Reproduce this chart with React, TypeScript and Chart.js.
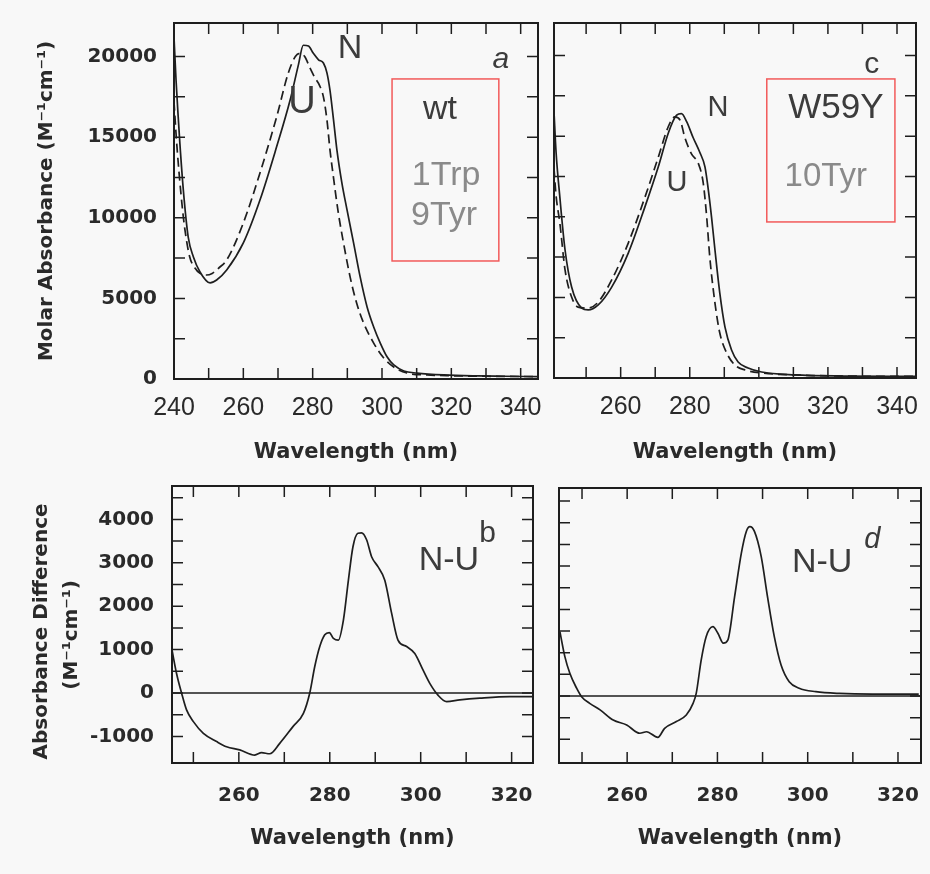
import React, { useEffect, useRef } from 'react';
import { Chart, registerables } from 'chart.js';

Chart.register(...registerables);

// ---------- Panel a: wt (1 Trp, 9 Tyr) molar absorbance ----------
const A_N_WL = [240, 240.6, 241.2, 241.7, 242.7, 244.1, 245.6, 247.5, 250.4, 252.3, 255.2, 260, 264.8, 269.6, 273.5, 275.9, 277.3, 278.8, 280.2, 281.7, 283.1, 284.1, 285, 286, 287, 288.4, 289.9, 291.8, 293.7, 295.7, 297.6, 299.5, 301.5, 303.4, 306.3, 310.1, 317.8, 327.4, 335, 345];
const A_N_ABS = [21200, 18500, 16300, 14600, 11700, 8800, 7570, 6640, 5960, 6140, 6760, 8440, 11100, 14400, 17300, 19500, 20700, 20650, 20200, 19800, 19600, 19000, 17900, 16100, 14200, 12200, 10500, 8440, 6330, 4470, 3230, 2230, 1360, 870, 500, 370, 250, 190, 170, 150];
const A_U_WL = [240, 240.5, 241, 242, 243, 244.5, 246, 247.5, 249.4, 251, 253, 255.2, 260, 264.8, 269.6, 273, 275, 276.3, 277.7, 279.2, 280.6, 282, 283.1, 284.1, 285, 286, 287.4, 288.9, 290.8, 292.7, 294.7, 297.6, 300.5, 303.4, 307.2, 313, 320, 330, 345];
const A_U_ABS = [17200, 15500, 14000, 11500, 9500, 7600, 6900, 6550, 6450, 6550, 6900, 7380, 9680, 12780, 16250, 19000, 20000, 20200, 20000, 19300, 18700, 18200, 17500, 16100, 14200, 12500, 10300, 8440, 6330, 4700, 3470, 2230, 1300, 740, 370, 250, 200, 170, 150];

// ---------- Panel c: W59Y (10 Tyr) molar absorbance ----------
const C_N_WL = [240.7, 241.3, 242.4, 243.9, 245.8, 248.7, 250.6, 253.5, 257.4, 262.2, 267.0, 270.9, 273.8, 276.2, 277.6, 279.1, 281.0, 282.9, 284.4, 285.3, 286.3, 287.3, 288.7, 290.2, 292.1, 294.0, 296.9, 300.8, 310.4, 324.9, 345.5];
const C_N_ABS = [16500, 14000, 11200, 7940, 5640, 4340, 4220, 4530, 5640, 7750, 10600, 13100, 15200, 16300, 16400, 15900, 14900, 14000, 13100, 11800, 10000, 7940, 5270, 3160, 1740, 990, 620, 370, 190, 120, 100];
const C_U_WL = [240.7, 241.3, 242.4, 243.9, 245.8, 247.7, 250.6, 253.5, 257.4, 262.2, 267.0, 270.9, 273.8, 275.7, 277.2, 278.6, 280.5, 282.5, 283.9, 284.9, 285.8, 287.3, 288.7, 290.7, 293.1, 296.0, 300.8, 310.4, 324.9, 345.5];
const C_U_ABS = [13000, 11300, 9600, 6700, 5020, 4400, 4340, 4710, 6080, 8370, 11200, 13700, 15600, 16200, 16000, 14900, 13900, 13300, 12100, 10000, 7500, 4650, 2790, 1550, 800, 500, 310, 190, 120, 100];

// ---------- Panel b: wt difference N-U ----------
const B_WL = [245.3, 246.3, 247.4, 248.5, 250.0, 252.2, 255.1, 257.3, 260.2, 263.5, 265.0, 266.8, 269.0, 271.9, 274.2, 275.6, 276.7, 277.8, 278.9, 279.9, 280.8, 281.9, 283.0, 284.1, 285.1, 286.2, 287.0, 288.1, 289.2, 290.6, 292.1, 293.6, 295.0, 296.9, 298.7, 300.5, 302.0, 303.8, 305.7, 308.6, 313.0, 319.6, 324.7];
const B_DIFF = [990, 450, 0, -390, -660, -930, -1120, -1240, -1310, -1430, -1375, -1400, -1160, -775, -470, 0, 610, 1070, 1340, 1390, 1260, 1220, 1680, 2600, 3370, 3680, 3690, 3530, 3140, 2910, 2600, 1840, 1220, 1070, 910, 530, 220, -50, -200, -160, -120, -85, -85];

// ---------- Panel d: W59Y difference N-U ----------
const D_WL = [245.1, 246.2, 247.3, 248.8, 249.9, 251.7, 254.0, 256.9, 259.9, 262.8, 264.3, 266.8, 268.3, 270.9, 273.1, 274.6, 275.3, 276.4, 277.5, 279.0, 280.1, 281.3, 282.3, 283.8, 285.3, 286.4, 287.2, 288.2, 289.7, 291.1, 292.6, 294.1, 295.9, 298.1, 301.8, 307.0, 314.3, 324.6];
const D_DIFF = [1485, 910, 525, 180, -15, -170, -320, -555, -670, -860, -825, -955, -745, -590, -440, -170, 60, 830, 1370, 1600, 1450, 1220, 1290, 2290, 3300, 3800, 3910, 3800, 3220, 2290, 1370, 715, 330, 180, 100, 60, 45, 45];

// ---------- Tick labels / tick marks ----------
const TOP_A_X_LABELS = [240, 260, 280, 300, 320, 340];
const TOP_C_X_LABELS = [260, 280, 300, 320, 340];
const TOP_Y_LABELS = [0, 5000, 10000, 15000, 20000];
const TOP_X_MARKS = [250, 260, 270, 280, 290, 300, 310, 320, 330, 340];
const TOP_Y_MARKS = [2500, 5000, 7500, 10000, 12500, 15000, 17500, 20000];
const BOT_X_LABELS = [260, 280, 300, 320];
const BOT_Y_LABELS = [-1000, 0, 1000, 2000, 3000, 4000];
const BOT_X_MARKS = [250, 260, 270, 280, 290, 300, 310, 320];
const BOT_Y_MARKS = [-1000, -500, 0, 500, 1000, 1500, 2000, 2500, 3000, 3500, 4000, 4500];

// ---------- Annotation texts ----------
const A_NOTES = ['N', 'U', 'a', 'wt', '1Trp', '9Tyr'];
const C_NOTES = ['N', 'U', 'c', 'W59Y', '10Tyr'];
const B_NOTES = ['N-U', 'b'];
const D_NOTES = ['N-U', 'd'];

const AXIS_FONT = "'DejaVu Sans', sans-serif";
const NARROW_FONT = "'Liberation Sans Narrow', 'Arial Narrow', 'Liberation Sans', sans-serif";
const HAND_FONT = "'Liberation Sans', Arial, sans-serif";
const TEXT = '#2a2a2a';
const INK = '#1e1e1e';
const DARK = '#3c3c3c';
const LIGHT = '#8a8a8a';
const RED = '#f25a5a';

type Note = { text: string; x: number; y: number; size: number; color: string; italic?: boolean };
type Rect = { x0: number; x1: number; y0: number; y1: number };
type Series = { x: number[]; y: number[]; dash?: number[] };

interface PanelSpec {
  left: number; top: number; w: number; h: number;
  box: { l: number; t: number; r: number; b: number };
  xMin: number; xMax: number; yMin: number; yMax: number;
  xLabels: number[]; yLabels: number[]; showY: boolean;
  xMarks: number[]; yMarks: number[];
  xFont: any; xPad: number; yFont: any; yPad: number;
  xTitlePad: number;
  yTitle?: string | string[]; yTitleFont?: any; yTitlePad?: number;
  series: Series[];
  notes: Note[];
  rects: Rect[];
  zero: boolean;
}

function makeFrame(spec: PanelSpec) {
  return {
    id: 'frame',
    afterDatasetsDraw(chart: any) {
      const { ctx, chartArea, scales } = chart;
      const { left, right, top, bottom } = chartArea;
      const xs = scales.x;
      const ys = scales.y;
      const len = 11;
      ctx.save();
      ctx.strokeStyle = INK;
      if (spec.zero) {
        const py = ys.getPixelForValue(0);
        ctx.lineWidth = 1.6;
        ctx.beginPath();
        ctx.moveTo(left, py);
        ctx.lineTo(right, py);
        ctx.stroke();
      }
      ctx.lineWidth = 1.5;
      ctx.beginPath();
      for (const v of spec.xMarks) {
        const px = xs.getPixelForValue(v);
        ctx.moveTo(px, bottom);
        ctx.lineTo(px, bottom - len);
        ctx.moveTo(px, top);
        ctx.lineTo(px, top + len);
      }
      for (const v of spec.yMarks) {
        const py = ys.getPixelForValue(v);
        ctx.moveTo(left, py);
        ctx.lineTo(left + len, py);
        ctx.moveTo(right, py);
        ctx.lineTo(right - len, py);
      }
      ctx.stroke();
      ctx.lineWidth = 2;
      ctx.strokeRect(left, top, right - left, bottom - top);
      ctx.strokeStyle = RED;
      ctx.lineWidth = 1.5;
      for (const r of spec.rects) {
        const x0 = xs.getPixelForValue(r.x0);
        const x1 = xs.getPixelForValue(r.x1);
        const y0 = ys.getPixelForValue(r.y0);
        const y1 = ys.getPixelForValue(r.y1);
        ctx.strokeRect(x0, y1, x1 - x0, y0 - y1);
      }
      ctx.textAlign = 'center';
      ctx.textBaseline = 'middle';
      for (const n of spec.notes) {
        ctx.fillStyle = n.color;
        ctx.font = `${n.italic ? 'italic ' : ''}${n.size}px ${HAND_FONT}`;
        ctx.fillText(n.text, xs.getPixelForValue(n.x), ys.getPixelForValue(n.y));
      }
      ctx.restore();
    },
  };
}

function buildConfig(spec: PanelSpec): any {
  const { box } = spec;
  const padTop = box.t - spec.top;
  const padRight = spec.left + spec.w - box.r;
  const yWidth = box.l - spec.left;
  const xHeight = spec.top + spec.h - box.b;
  const zeroPad = (s: any) => {
    s.paddingTop = 0; s.paddingBottom = 0; s.paddingLeft = 0; s.paddingRight = 0;
  };
  return {
    type: 'line',
    data: {
      datasets: spec.series.map((s) => ({
        data: s.x.map((x, i) => ({ x, y: s.y[i] })),
        borderColor: INK,
        borderWidth: 1.7,
        borderDash: s.dash || [],
        pointRadius: 0,
        cubicInterpolationMode: 'monotone',
        fill: false,
      })),
    },
    options: {
      responsive: false,
      animation: false,
      events: [],
      layout: { padding: { top: padTop, right: padRight, left: 0, bottom: 0 } },
      plugins: { legend: { display: false }, tooltip: { enabled: false } },
      scales: {
        x: {
          type: 'linear',
          min: spec.xMin,
          max: spec.xMax,
          afterBuildTicks: (s: any) => { s.ticks = spec.xLabels.map((v) => ({ value: v })); },
          afterFit: (s: any) => { s.height = xHeight; zeroPad(s); },
          grid: { display: false, drawTicks: false },
          border: { display: false },
          ticks: {
            autoSkip: false, maxRotation: 0, minRotation: 0,
            padding: spec.xPad, font: spec.xFont, color: TEXT,
            callback: (v: any) => String(v),
          },
          title: {
            display: true, text: 'Wavelength (nm)', color: TEXT,
            font: { family: AXIS_FONT, size: 21, weight: 'bold' },
            padding: { top: 0, bottom: spec.xTitlePad },
          },
        },
        y: {
          type: 'linear',
          min: spec.yMin,
          max: spec.yMax,
          afterBuildTicks: (s: any) => { s.ticks = spec.yLabels.map((v) => ({ value: v })); },
          afterFit: (s: any) => { s.width = yWidth; zeroPad(s); },
          grid: { display: false, drawTicks: false },
          border: { display: false },
          ticks: {
            display: spec.showY, autoSkip: false,
            padding: spec.yPad, font: spec.yFont, color: TEXT,
            callback: (v: any) => String(v),
          },
          title: spec.yTitle
            ? { display: true, text: spec.yTitle, color: TEXT, font: spec.yTitleFont, padding: { top: spec.yTitlePad, bottom: 0 } }
            : { display: false },
        },
      },
    },
    plugins: [makeFrame(spec)],
  };
}

const TOP_Y_FONT = { family: AXIS_FONT, size: 20, weight: 'bold' };
const TOP_X_FONT = { family: NARROW_FONT, size: 25 };
const BOT_Y_FONT = { family: AXIS_FONT, size: 20, weight: 'bold' };
const BOT_X_FONT = { family: AXIS_FONT, size: 20, weight: 'bold' };

const PANELS: PanelSpec[] = [
  {
    left: 0, top: 0, w: 548, h: 470,
    box: { l: 174, t: 23, r: 538, b: 379 },
    xMin: 240, xMax: 345, yMin: 0, yMax: 22080,
    xLabels: TOP_A_X_LABELS, yLabels: TOP_Y_LABELS, showY: true,
    xMarks: TOP_X_MARKS, yMarks: TOP_Y_MARKS,
    xFont: TOP_X_FONT, xPad: 14, yFont: TOP_Y_FONT, yPad: 17,
    xTitlePad: 5,
    yTitle: 'Molar Absorbance (M⁻¹cm⁻¹)',
    yTitleFont: { family: AXIS_FONT, size: 20, weight: 'bold', lineHeight: 1.2 },
    yTitlePad: 35,
    series: [
      { x: A_N_WL, y: A_N_ABS },
      { x: A_U_WL, y: A_U_ABS, dash: [9, 5] },
    ],
    notes: [
      { text: A_NOTES[0], x: 290.8, y: 20470, size: 34, color: DARK },
      { text: A_NOTES[1], x: 276.9, y: 17120, size: 38, color: DARK },
      { text: A_NOTES[2], x: 334.3, y: 19790, size: 30, color: DARK, italic: true },
      { text: A_NOTES[3], x: 316.7, y: 16690, size: 34, color: DARK },
      { text: A_NOTES[4], x: 318.5, y: 12590, size: 34, color: LIGHT },
      { text: A_NOTES[5], x: 317.9, y: 10110, size: 34, color: LIGHT },
    ],
    rects: [{ x0: 302.9, x1: 333.7, y0: 7320, y1: 18610 }],
    zero: false,
  },
  {
    left: 548, top: 0, w: 382, h: 470,
    box: { l: 554, t: 23, r: 916, b: 378 },
    xMin: 240.7, xMax: 345.5, yMin: 0, yMax: 22020,
    xLabels: TOP_C_X_LABELS, yLabels: TOP_Y_LABELS, showY: false,
    xMarks: TOP_X_MARKS, yMarks: TOP_Y_MARKS,
    xFont: TOP_X_FONT, xPad: 14, yFont: TOP_Y_FONT, yPad: 17,
    xTitlePad: 5,
    series: [
      { x: C_N_WL, y: C_N_ABS },
      { x: C_U_WL, y: C_U_ABS, dash: [9, 5] },
    ],
    notes: [
      { text: C_NOTES[0], x: 288.2, y: 16750, size: 29, color: DARK },
      { text: C_NOTES[1], x: 276.3, y: 12100, size: 29, color: DARK },
      { text: C_NOTES[2], x: 332.7, y: 19420, size: 30, color: DARK },
      { text: C_NOTES[3], x: 322.3, y: 16750, size: 35, color: DARK },
      { text: C_NOTES[4], x: 319.4, y: 12470, size: 33, color: LIGHT },
    ],
    rects: [{ x0: 302.3, x1: 339.4, y0: 9680, y1: 18550 }],
    zero: false,
  },
  {
    left: 0, top: 470, w: 540, h: 404,
    box: { l: 172, t: 486, r: 533, b: 763 },
    xMin: 245.3, xMax: 324.7, yMin: -1613, yMax: 4769,
    xLabels: BOT_X_LABELS, yLabels: BOT_Y_LABELS, showY: true,
    xMarks: BOT_X_MARKS, yMarks: BOT_Y_MARKS,
    xFont: BOT_X_FONT, xPad: 21, yFont: BOT_Y_FONT, yPad: 18,
    xTitlePad: 23,
    yTitle: ['Absorbance Difference  ', '(M⁻¹cm⁻¹)   '],
    yTitleFont: { family: AXIS_FONT, size: 20, weight: 'bold', lineHeight: 1.5 },
    yTitlePad: 27,
    series: [{ x: B_WL, y: B_DIFF }],
    notes: [
      { text: B_NOTES[0], x: 306.2, y: 3060, size: 34, color: DARK },
      { text: B_NOTES[1], x: 314.7, y: 3660, size: 30, color: DARK },
    ],
    rects: [],
    zero: true,
  },
  {
    left: 540, top: 470, w: 390, h: 404,
    box: { l: 559, t: 488, r: 921, b: 763 },
    xMin: 244.9, xMax: 325.1, yMin: -1547, yMax: 4803,
    xLabels: BOT_X_LABELS, yLabels: BOT_Y_LABELS, showY: false,
    xMarks: BOT_X_MARKS, yMarks: BOT_Y_MARKS,
    xFont: BOT_X_FONT, xPad: 21, yFont: BOT_Y_FONT, yPad: 18,
    xTitlePad: 23,
    series: [{ x: D_WL, y: D_DIFF }],
    notes: [
      { text: D_NOTES[0], x: 303.2, y: 3070, size: 34, color: DARK },
      { text: D_NOTES[1], x: 314.3, y: 3600, size: 29, color: DARK, italic: true },
    ],
    rects: [],
    zero: true,
  },
];

function Panel({ spec }: { spec: PanelSpec }) {
  const ref = useRef<HTMLCanvasElement>(null);
  useEffect(() => {
    const chart = new Chart(ref.current as HTMLCanvasElement, buildConfig(spec));
    return () => chart.destroy();
  }, [spec]);
  return (
    <canvas
      ref={ref}
      width={spec.w}
      height={spec.h}
      style={{ position: 'absolute', left: spec.left, top: spec.top, width: spec.w, height: spec.h }}
    />
  );
}

export default function App() {
  return (
    <div style={{ position: 'absolute', left: 0, top: 0, width: 930, height: 874, background: '#f8f8f8', overflow: 'hidden' }}>
      {PANELS.map((p, i) => (
        <Panel key={i} spec={p} />
      ))}
    </div>
  );
}
